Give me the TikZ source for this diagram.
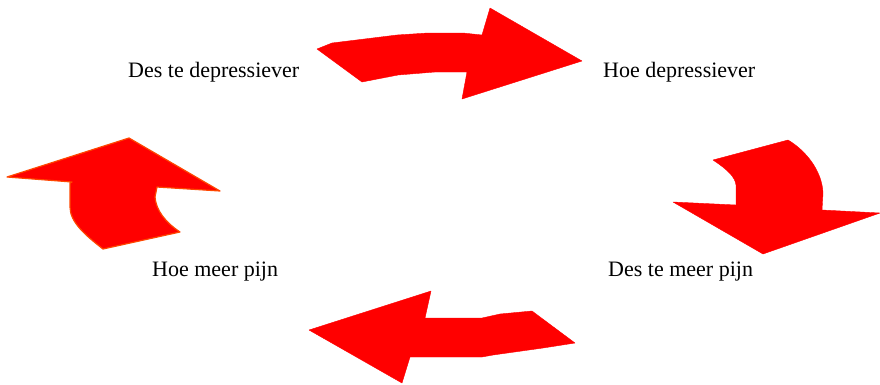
\documentclass[tikz,border=0pt]{standalone}
\usepackage{fontspec}
\setmainfont{Liberation Serif}
\begin{document}
\begin{tikzpicture}[x=1pt,y=-1pt,
  arr/.style={fill=red,draw=red,line join=round},
  arro/.style={fill=red,draw={rgb,255:red,255;green,70;blue,0},line width=1.2pt,line join=round},
  lbl/.style={anchor=base west,inner sep=0pt,font=\fontsize{22}{26}\selectfont}]
\useasboundingbox (0,0) rectangle (880,384);
% top arrow
\path[arr] (317,49) -- (332,43) -- (397,35) -- (428,33) -- (463,33) -- (482,35) -- (490,8) -- (582,61) -- (462,99) -- (467,72) -- (435,72) -- (398,75) -- (362,82) -- cycle;
% right arrow
\path[arr] (713,160) -- (788,140) .. controls (805,150) and (822,170) .. (823,193) -- (822,210) -- (880,213) -- (763,254) -- (673,202) -- (736,205) -- (736,185) .. controls (735,177) and (728,170) .. (713,160) -- cycle;
% bottom arrow
\path[arr] (309,330) -- (431,291) -- (425,318) -- (482,318) -- (500,314) -- (532,311) -- (575,343) -- (543,348) -- (493,355) -- (482,357) -- (410,357) -- (402,383) -- cycle;
% left arrow
\path[arro] (7,177) -- (129,138) -- (220,191) -- (157,187) -- (155,197) .. controls (156,210) and (165,222) .. (180,232) -- (103,249) .. controls (85,235) and (70,222) .. (70,207) -- (70,183) -- (72,182) -- cycle;
\node[lbl] (t1) at (128,77) {Des te depressiever};
\node[lbl] (t2) at (603,77) {Hoe depressiever};
\node[lbl] (t3) at (152,276) {Hoe meer pijn};
\node[lbl] (t4) at (608,276) {Des te meer pijn};
\end{tikzpicture}
\end{document}
